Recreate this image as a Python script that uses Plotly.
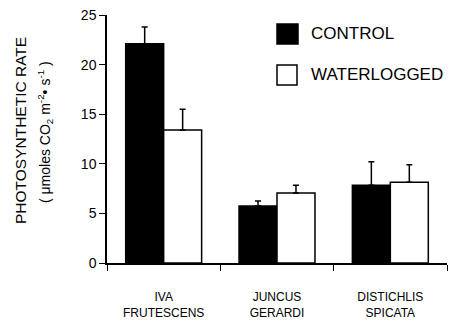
import plotly.graph_objects as go

categories = ["IVA<br>FRUTESCENS", "JUNCUS<br>GERARDI", "DISTICHLIS<br>SPICATA"]
control = [22.1, 5.75, 7.85]
control_err = [1.7, 0.5, 2.35]
waterlogged = [13.4, 7.05, 8.15]
waterlogged_err = [2.1, 0.8, 1.75]
series_names = ["CONTROL", "WATERLOGGED"]
y_ticks = [0, 5, 10, 15, 20, 25]

FONT = "Liberation Sans, Arial, sans-serif"

fig = go.Figure()
fig.add_trace(go.Bar(
    x=categories, y=control, name=series_names[0],
    marker=dict(color="black", line=dict(color="black", width=1.5)),
    error_y=dict(type="data", array=control_err, arrayminus=[0]*3, symmetric=False,
                 color="black", thickness=1.5, width=3),
    showlegend=False,
))
fig.add_trace(go.Bar(
    x=categories, y=waterlogged, name=series_names[1],
    marker=dict(color="white", line=dict(color="black", width=1.5)),
    error_y=dict(type="data", array=waterlogged_err, arrayminus=[0]*3, symmetric=False,
                 color="black", thickness=1.5, width=3),
    showlegend=False,
))

L, R, T, B = 107, 12, 15, 60
W, H = 459, 323
pw, ph = W - L - R, H - T - B

def px(x):
    return (x - L) / pw

def py(y):
    return (H - B - y) / ph

shapes = [
    dict(type="rect", xref="paper", yref="paper", x0=px(277), x1=px(298), y0=py(44), y1=py(24),
         fillcolor="black", line=dict(color="black", width=1.5)),
    dict(type="rect", xref="paper", yref="paper", x0=px(277), x1=px(297), y0=py(85), y1=py(65),
         fillcolor="white", line=dict(color="black", width=1.5)),
]
annotations = [
    dict(text=series_names[0], xref="paper", yref="paper", x=px(309), y=py(33),
         xanchor="left", yanchor="middle", showarrow=False, font=dict(size=17, color="black", family=FONT)),
    dict(text=series_names[1], xref="paper", yref="paper", x=px(309), y=py(74),
         xanchor="left", yanchor="middle", showarrow=False, font=dict(size=17, color="black", family=FONT)),
    dict(text="PHOTOSYNTHETIC RATE", xref="paper", yref="paper", x=px(20), y=py(131),
         xanchor="center", yanchor="middle", textangle=-90, showarrow=False,
         font=dict(size=15.5, color="black", family=FONT)),
    dict(text="( μmoles CO<sub>2</sub> m<sup>-2</sup>• s<sup>-1</sup> )", xref="paper", yref="paper",
         x=px(45), y=py(132), xanchor="center", yanchor="middle", textangle=-90, showarrow=False,
         font=dict(size=14, color="black", family=FONT)),
]

fig.update_layout(
    width=W, height=H,
    margin=dict(l=L, r=R, t=T, b=B, pad=0, autoexpand=False),
    plot_bgcolor="white", paper_bgcolor="white",
    barmode="group", bargap=0.33, bargroupgap=0,
    font=dict(family=FONT, color="black"),
    shapes=shapes, annotations=annotations,
)
fig.update_xaxes(
    showline=True, linecolor="black", linewidth=1.5, automargin=False,
    ticks="outside", tickson="boundaries", ticklen=6, tickcolor="black", tickwidth=1.2,
    ticklabelstandoff=22, tickfont=dict(size=12, family=FONT, color="black"),
    showgrid=False, zeroline=False,
)
fig.update_yaxes(
    range=[0, 25], tickvals=y_ticks, automargin=False,
    showline=True, linecolor="black", linewidth=1.5,
    ticks="outside", ticklen=6, tickcolor="black", tickwidth=1.2,
    tickfont=dict(size=14, family=FONT, color="black"),
    showgrid=False, zeroline=False,
)

fig.write_html("out.html")
